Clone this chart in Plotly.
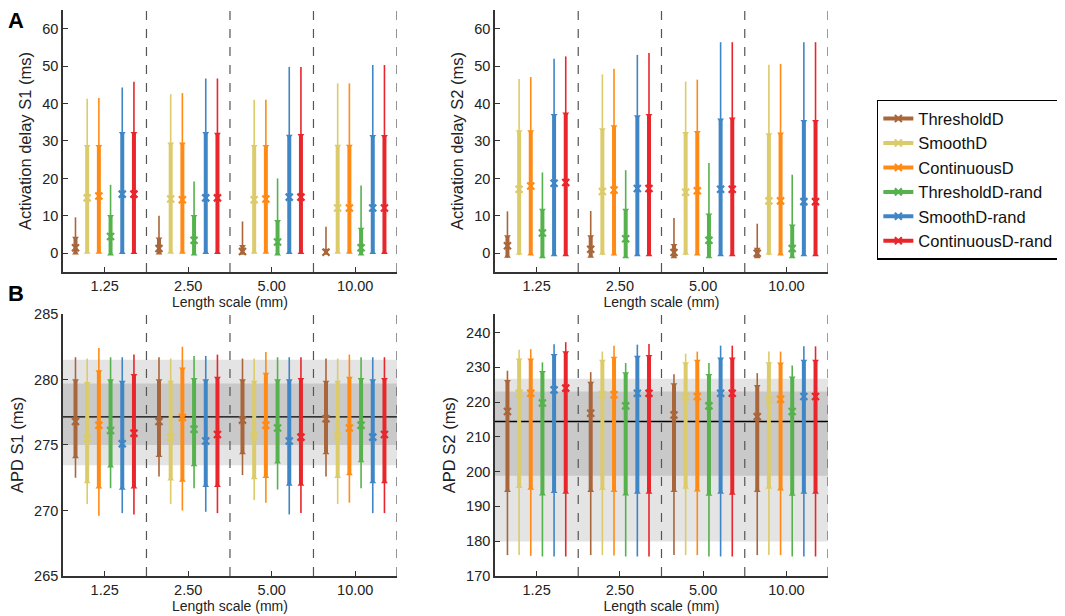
import plotly.graph_objects as go
from plotly.subplots import make_subplots

# series and groups
series = ["ThresholdD", "SmoothD", "ContinuousD", "ThresholdD-rand", "SmoothD-rand", "ContinuousD-rand"]
colors = ["#a9663b", "#dccb6a", "#ff8b16", "#55b24c", "#3f86c6", "#e8262b"]
length_scales = ["1.25", "2.50", "5.00", "10.00"]

# Activation delay S1 (ms): per series, one value per length scale
ad1_max = [[9.6, 10.0, 8.5, 7.1], [41.3, 42.5, 41.0, 45.4], [41.5, 42.8, 41.0, 45.4],
           [18.3, 19.2, 20.0, 18.1], [44.3, 46.7, 49.8, 50.3], [45.8, 46.7, 49.8, 50.3]]
ad1_q3 = [[4.0, 3.8, 1.8, 0.8], [28.5, 29.2, 28.5, 28.6], [28.5, 29.2, 28.5, 28.6],
          [9.8, 9.8, 8.5, 6.4], [32.0, 32.0, 31.3, 31.2], [32.0, 31.8, 31.5, 31.2]]
ad1_med = [[1.5, 1.3, 0.5, 0.3], [14.8, 14.5, 14.3, 12.1], [15.3, 14.3, 14.5, 12.1],
           [4.5, 3.5, 3.0, 1.5], [15.8, 14.8, 15.0, 12.1], [15.8, 14.8, 15.0, 12.1]]
ad1_q1 = [[0.1, 0.1, 0.0, 0.0], [0.3, 0.3, 0.3, 0.3], [0.3, 0.3, 0.3, 0.3],
          [-0.2, -0.2, -0.2, -0.2], [0.2, 0.2, 0.2, 0.2], [0.2, 0.2, 0.2, 0.2]]
ad1_min = [[-0.2, -0.2, -0.2, -0.2], [0.0, 0.0, 0.0, 0.0], [0.0, 0.0, 0.0, 0.0],
           [-0.3, -0.3, -0.3, -0.3], [0.0, 0.0, 0.0, 0.0], [0.0, 0.0, 0.0, 0.0]]

# Activation delay S2 (ms)
ad2_max = [[11.2, 11.3, 9.4, 7.9], [46.6, 47.8, 45.9, 50.4], [47.1, 49.3, 46.4, 50.6],
           [21.6, 22.2, 24.1, 21.0], [52.0, 53.0, 56.4, 56.4], [52.6, 53.5, 56.4, 56.4]]
ad2_q3 = [[4.4, 4.4, 2.1, 1.1], [32.5, 33.0, 32.0, 31.7], [32.5, 33.8, 32.3, 31.9],
          [11.5, 11.5, 10.2, 7.3], [36.8, 36.5, 35.6, 35.2], [37.2, 36.8, 35.9, 35.2]]
ad2_med = [[2.0, 1.1, 0.2, 0.0], [17.1, 16.5, 16.3, 14.0], [18.0, 16.9, 16.7, 14.0],
           [5.4, 3.9, 3.5, 1.3], [18.7, 17.3, 17.1, 13.8], [18.9, 17.3, 17.1, 13.8]]
ad2_q1 = [[-0.8, -0.8, -0.9, -0.9], [0.0, 0.0, 0.0, 0.0], [-0.2, -0.2, -0.2, -0.2],
          [-0.9, -0.9, -0.9, -0.9], [-0.4, -0.4, -0.4, -0.4], [-0.4, -0.4, -0.4, -0.4]]
ad2_min = [[-1.2, -1.0, -1.2, -1.2], [-0.5, -0.5, -0.5, -0.5], [-0.5, -0.5, -0.5, -0.5],
           [-1.0, -1.0, -1.0, -1.0], [-0.6, -0.6, -0.6, -0.6], [-0.6, -0.6, -0.6, -0.6]]

# APD S1 (ms)
apd1_max = [[281.7, 281.7, 281.6, 281.6], [281.6, 281.6, 281.6, 281.6], [282.4, 282.5, 282.1, 281.9],
            [281.7, 281.8, 281.7, 281.7], [281.7, 281.8, 281.7, 281.7], [281.9, 281.9, 281.7, 281.7]]
apd1_q3 = [[279.9, 279.9, 279.9, 279.8], [279.7, 279.8, 279.8, 279.8], [280.6, 280.8, 280.4, 280.1],
           [279.9, 280.0, 279.9, 280.0], [279.8, 279.9, 279.9, 279.9], [280.3, 280.1, 280.0, 280.0]]
apd1_med = [[276.8, 276.8, 276.9, 277.0], [275.5, 275.6, 275.7, 275.7], [276.5, 277.1, 276.5, 276.3],
            [276.1, 276.2, 276.3, 276.5], [275.1, 275.3, 275.3, 275.6], [275.9, 275.8, 275.6, 275.8]]
apd1_q1 = [[274.1, 274.2, 274.4, 274.4], [272.2, 272.4, 272.5, 272.6], [271.8, 272.3, 272.6, 272.8],
           [273.4, 273.5, 273.7, 273.8], [271.7, 271.9, 272.0, 272.2], [271.8, 271.9, 272.0, 272.2]]
apd1_min = [[272.5, 272.6, 272.7, 272.6], [270.5, 270.5, 270.8, 270.5], [269.6, 270.0, 270.6, 270.6],
            [271.7, 271.7, 271.6, 271.7], [269.8, 269.9, 269.7, 269.8], [269.7, 269.8, 269.8, 269.8]]

# APD S2 (ms)
apd2_max = [[229.0, 228.6, 228.0, 228.3], [235.0, 234.5, 233.9, 234.5], [235.2, 236.2, 234.5, 234.5],
            [231.4, 231.2, 231.2, 230.5], [236.6, 236.5, 236.2, 236.0], [237.2, 236.7, 236.2, 236.0]]
apd2_q3 = [[225.9, 225.4, 225.0, 224.5], [232.1, 231.7, 231.0, 231.0], [232.1, 232.6, 231.7, 230.9],
           [228.5, 228.1, 227.6, 226.9], [233.4, 232.9, 232.4, 231.7], [234.2, 233.1, 232.4, 231.7]]
apd2_med = [[217.3, 216.8, 216.3, 215.8], [222.5, 222.1, 221.6, 220.6], [222.5, 222.1, 221.6, 220.8],
            [219.7, 218.9, 218.9, 217.3], [223.5, 222.5, 222.5, 221.6], [224.0, 222.5, 222.5, 221.6]]
apd2_q1 = [[194.6, 194.6, 194.6, 194.6], [195.7, 195.2, 195.5, 195.5], [195.2, 194.6, 194.7, 195.0],
           [193.6, 193.6, 193.5, 193.5], [194.3, 194.1, 194.1, 194.1], [194.1, 194.1, 193.8, 194.1]]
apd2_min = [[176.0, 176.0, 176.0, 176.0], [176.0, 176.0, 176.0, 176.0], [175.8, 175.9, 176.0, 176.0],
            [175.6, 175.6, 175.6, 175.6], [175.6, 175.6, 175.6, 175.6], [175.6, 175.6, 175.6, 175.6]]

# reference bands (baseline): outer band, inner band, baseline value
apd1_band = [273.45, 281.5, 275.0, 279.7, 277.15]
apd2_band = [179.9, 226.7, 198.8, 223.0, 214.4]

panels = [
    (ad1_min, ad1_q1, ad1_med, ad1_q3, ad1_max, 1, 1, "Activation delay S1 (ms)", [-5, 65], 10, None),
    (ad2_min, ad2_q1, ad2_med, ad2_q3, ad2_max, 1, 2, "Activation delay S2 (ms)", [-5, 65], 10, None),
    (apd1_min, apd1_q1, apd1_med, apd1_q3, apd1_max, 2, 1, "APD S1 (ms)", [265, 285], 5, apd1_band),
    (apd2_min, apd2_q1, apd2_med, apd2_q3, apd2_max, 2, 2, "APD S2 (ms)", [170, 245.3], 10, apd2_band),
]

FONT = "Arial, Liberation Sans, Helvetica, sans-serif"
spacing = 0.14

fig = make_subplots(rows=2, cols=2)

for p, (vmin, vq1, vmed, vq3, vmax, row, col, ytitle, yrange, dtick, band) in enumerate(panels):
    for i, name in enumerate(series):
        off = (i - 2.5) * spacing
        xs, y_thin, y_thick, sym, xm, ym = [], [], [], [], [], []
        for g in range(len(length_scales)):
            xp = g + 1 + off
            xs += [xp, xp, None]
            y_thin += [vmin[i][g], vmax[i][g], None]
            y_thick += [vq1[i][g], vq3[i][g], None]
            sym += ["triangle-up", "triangle-down", "circle"]
            xm += [xp, None]
            ym += [vmed[i][g], None]
        fig.add_trace(go.Scatter(x=xs, y=y_thin, mode="lines", line=dict(color=colors[i], width=1.6),
                                 showlegend=False, hoverinfo="skip"), row=row, col=col)
        fig.add_trace(go.Scatter(x=xs, y=y_thick, mode="lines+markers", line=dict(color=colors[i], width=4),
                                 marker=dict(symbol=sym, size=6, color=colors[i]),
                                 showlegend=False), row=row, col=col)
        fig.add_trace(go.Scatter(x=xm, y=ym, mode="lines+markers", name=name,
                                 line=dict(color=colors[i], width=4),
                                 marker=dict(symbol="x-thin", size=7, color=colors[i],
                                             line=dict(color=colors[i], width=2.2)),
                                 showlegend=(p == 0)), row=row, col=col)

    ax = "" if p == 0 else str(p + 1)
    if band is not None:
        fig.add_shape(type="rect", xref=f"x{ax} domain", yref=f"y{ax}", x0=0, x1=1, y0=band[0], y1=band[1],
                      fillcolor="#e4e4e4", line_width=0, layer="below")
        fig.add_shape(type="rect", xref=f"x{ax} domain", yref=f"y{ax}", x0=0, x1=1, y0=band[2], y1=band[3],
                      fillcolor="#c9c9c9", line_width=0, layer="below")
        fig.add_shape(type="line", xref=f"x{ax} domain", yref=f"y{ax}", x0=0, x1=1, y0=band[4], y1=band[4],
                      line=dict(color="black", width=1.3), layer="below")
    for xd in [1.5, 2.5, 3.5, 4.5]:
        fig.add_shape(type="line", xref=f"x{ax}", yref=f"y{ax} domain", x0=xd, x1=xd, y0=0, y1=1,
                      line=dict(color="#555555", width=1.2, dash="dash"))

    fig.update_xaxes(range=[0.5, 4.5], tickvals=[1, 2, 3, 4], ticktext=length_scales, automargin=False,
                     showgrid=False, zeroline=False, showline=True, linecolor="#333333", linewidth=1.5,
                     ticks="inside", ticklen=5, tickcolor="#333333",
                     tickfont=dict(size=14.5, color="#222222", family=FONT),
                     title=dict(text="Length scale (mm)", font=dict(size=14, color="#222222", family=FONT),
                                standoff=0),
                     row=row, col=col)
    fig.update_yaxes(range=yrange, dtick=dtick, showgrid=False, zeroline=False, showline=True,
                     automargin=False,
                     linecolor="#333333", linewidth=1.5, ticks="inside", ticklen=5, tickcolor="#333333",
                     tickfont=dict(size=14.5, color="#222222", family=FONT),
                     title=dict(text=ytitle, font=dict(size=16.5, color="#222222", family=FONT), standoff=6),
                     row=row, col=col)

# page draws the figure 8px in from the window edge; domains below place the panels as in the reference
fig.update_layout(
    xaxis=dict(domain=[0.0520, 0.3680]), xaxis2=dict(domain=[0.4607, 0.7758]),
    xaxis3=dict(domain=[0.0520, 0.3680]), xaxis4=dict(domain=[0.4607, 0.7758]),
    yaxis=dict(domain=[0.5658, 0.9967]), yaxis2=dict(domain=[0.5658, 0.9967]),
    yaxis3=dict(domain=[0.0658, 0.4967]), yaxis4=dict(domain=[0.0658, 0.4967]),
)

fig.add_annotation(text="<b>A</b>", x=0, y=1, xref="paper", yref="paper", xanchor="left", xshift=-2,
                   yanchor="top", yshift=2, showarrow=False, font=dict(size=22, color="black", family=FONT))
fig.add_annotation(text="<b>B</b>", x=0, y=0.554, xref="paper", yref="paper", xanchor="left", xshift=-2,
                   yanchor="top", showarrow=False, font=dict(size=22, color="black", family=FONT))

fig.update_layout(
    width=1057, height=608,
    margin=dict(l=0, r=0, t=0, b=0),
    plot_bgcolor="white", paper_bgcolor="white",
    font=dict(family=FONT, color="#222222"),
    legend=dict(x=0.822, y=0.849, xanchor="left", yanchor="top",
                bordercolor="black", borderwidth=1.5,
                bgcolor="white", font=dict(size=16.5, color="#111111", family=FONT), tracegroupgap=0,
                itemwidth=30),
)

fig.write_html("out.html")
